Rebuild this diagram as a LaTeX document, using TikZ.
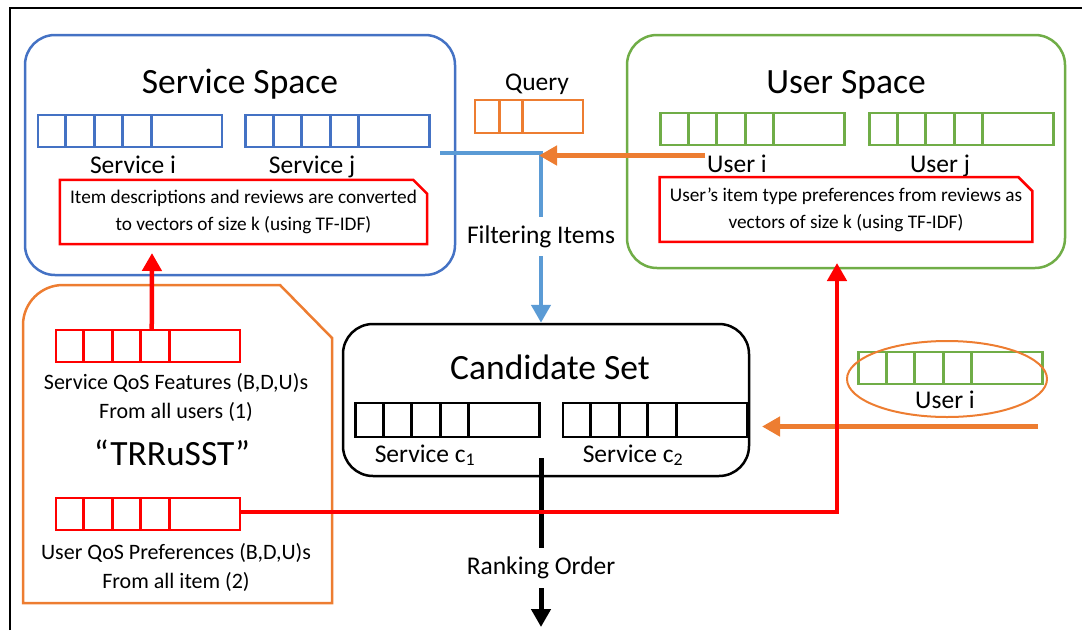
\documentclass[tikz,border=0pt]{standalone}
\usepackage{fontspec}
\setmainfont{Carlito}
\usetikzlibrary{arrows.meta,positioning,calc,shapes.misc,shapes.geometric}

\definecolor{svcblue}{RGB}{68,114,196}
\definecolor{flowblue}{RGB}{91,155,213}
\definecolor{usrgreen}{RGB}{112,173,71}
\definecolor{qorange}{RGB}{237,125,49}

\tikzset{cuts/.store in=\vcuts, cuts={0.15,0.305,0.46,0.615}}

\begin{document}
\begin{tikzpicture}[
    x=1pt, y=-1pt,
    spacebox/.style={draw=#1, line width=2.5pt, rounded corners=30pt},
    vecbar/.style={draw=#1, line width=2.5pt, minimum width=184pt, minimum height=32pt, inner sep=0pt,
        path picture={\foreach \f in \vcuts
            \draw[#1, line width=2.8pt] ($(path picture bounding box.south west)!\f!(path picture bounding box.south east)$)
                -- ($(path picture bounding box.north west)!\f!(path picture bounding box.north east)$);}},
    note/.style={draw=red, line width=2.5pt, chamfered rectangle, chamfered rectangle corners=north east,
        chamfered rectangle xsep=7pt, chamfered rectangle ysep=7pt, align=center, font=\fontsize{19.3}{27}\selectfont},
    title/.style={anchor=base, font=\fontsize{35.5}{40}\selectfont},
    lbl/.style={anchor=base, font=\fontsize{25.5}{30}\selectfont},
    qos/.style={align=center, font=\fontsize{22}{29}\selectfont},
    flow/.style={line width=4.5pt, -{Triangle[width=19pt,length=18pt]}}
]
\useasboundingbox (0,0) rectangle (1082,630);
\draw[line width=2pt] (10,630) -- (10,8) -- (1082,8);

% the three spaces
\node[spacebox=svcblue, minimum width=430pt, minimum height=240pt] (svc) at (240,155) {};
\node[spacebox=usrgreen, minimum width=438pt, minimum height=233pt] (usr) at (846,151.5) {};
\node[spacebox=black, minimum width=406pt, minimum height=152pt] (cand) at (546,400) {};
\node[title] (svct) at (240,93) {Service Space};
\node[title] (usrt) at (846,93) {User Space};
\node[title] (candt) at (550,379) {Candidate Set};

% vectors
\node[vecbar=svcblue] (svi) at (130,131) {};
\node[vecbar=svcblue] (svj) at (337.5,131) {};
\node[vecbar=usrgreen] (usi) at (752.5,129) {};
\node[vecbar=usrgreen] (usj) at (961.5,129) {};
\node[vecbar=qorange, cuts={0.23,0.44}, minimum width=108pt, minimum height=33pt] (qry) at (529,116.5) {};
\node[vecbar=black, minimum height=34pt] (cs1) at (447.5,420) {};
\node[vecbar=black, minimum height=34pt] (cs2) at (655,420) {};
\node[vecbar=usrgreen] (uqv) at (950.5,368) {};
\node[vecbar=red] (qosf) at (148,346) {};
\node[vecbar=red] (qosp) at (148,514) {};

\node[lbl] (svil) at (133,173) {Service i};
\node[lbl] (svjl) at (312,173) {Service j};
\node[lbl] (usil) at (737,172) {User i};
\node[lbl] (usjl) at (940,172) {User j};
\node[lbl] (qryl) at (537,90) {Query};
\node[lbl] (c1l) at (425,462) {Service c\textsubscript{1}};
\node[lbl] (c2l) at (633,462) {Service c\textsubscript{2}};
\node[lbl] (uql) at (945,408) {User i};
\node[draw=qorange, line width=2pt, ellipse, minimum width=200pt, minimum height=76pt] (uqe) at (947,379) {};

% notes
\node[note, minimum width=367pt, minimum height=54pt] (svn) at (243.5,212)
    {Item descriptions and reviews are converted\\to vectors of size k (using TF-IDF)};
\node[note, minimum width=368pt, minimum height=53pt] (usn) at (846,209.5)
    {User’s item type preferences from reviews as\\vectors of size k (using TF-IDF)};

% TRRuSST panel
\draw[qorange, line width=2.5pt] (23,603) -- (23,325) arc[start angle=180, end angle=270, radius=40]
    -- (280,285) -- (332,338) -- (332,603) -- cycle;
\node[qos] (qosfl) at (176,397) {Service QoS Features (B,D,U)s\\From all users (1)};
\node[title] (trust) at (172,465) {“TRRuSST”};
\node[qos] (qospl) at (176,567) {User QoS Preferences (B,D,U)s\\From all item (2)};

% connectors
\node[lbl, anchor=center, minimum height=39pt, inner sep=0pt] (filt) at (541,236.5) {Filtering Items};
\node[lbl, anchor=center, minimum height=40pt, inner sep=0pt] (rank) at (541,568) {Ranking Order};
\coordinate (fsrc) at (440,153);
\coordinate (qsrc) at (705,155.5);
\coordinate (qdst) at (539,155.5);
\coordinate (rsrc) at (541,458);
\coordinate (rend) at (541,627);
\coordinate (uqsrc) at (1038,426.5);
\coordinate (uqdst) at (762,426.5);
\coordinate (rtop1) at (152,253);
\coordinate (rtop2) at (837,263);
\draw[flowblue, line width=4.5pt] (fsrc) -| (filt.north);
\draw[flow, flowblue] (filt.south) -- (filt.south |- cand.north);
\draw[flow, qorange] (qsrc) -- (qdst);
\draw[line width=5pt] (rsrc) -- (rank.north);
\draw[flow, line width=5pt] (rank.south) -- (rend);
\draw[flow, qorange] (uqsrc) -- (uqdst);
\draw[flow, red] ($(qosf.north west)!0.52!(qosf.north east)$) -- (rtop1);
\draw[flow, red] ($(qosp.east)+(0,-2)$) -| (rtop2);
\end{tikzpicture}
\end{document}
